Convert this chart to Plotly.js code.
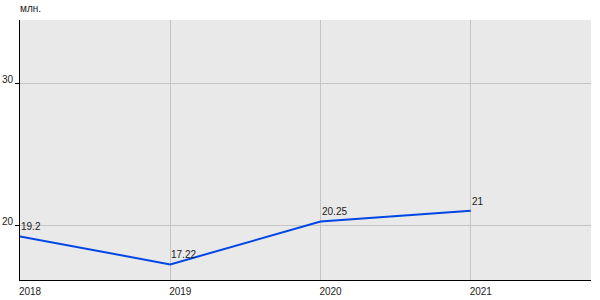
<!DOCTYPE html>
<html>
<head>
<meta charset="utf-8">
<script src="https://cdn.plot.ly/plotly-3.0.1.min.js"></script>
<style>html,body{margin:0;padding:0;background:#fff;}#chart{width:600px;height:300px;}</style>
</head>
<body>
<div id="chart"></div>
<script>
const years = [2018, 2019, 2020, 2021];
const values = [19.2, 17.22, 20.25, 21];
const valueLabels = ["19.2", "17.22", "20.25", "21"];
const yTickVals = [20, 30];
const yTickText = ["20", "30"];
const unitLabel = "млн.";

const trace = {
  x: years,
  y: values,
  type: "scatter",
  mode: "lines",
  line: {color: "#0046e6", width: 2},
  hoverinfo: "skip"
};

const annotations = years.map((yr, i) => ({
  x: yr, y: values[i], xref: "x", yref: "y",
  text: valueLabels[i], showarrow: false,
  xanchor: "left", yanchor: "bottom", xshift: -1, yshift: 2,
  font: {family: "Liberation Sans, Arial, sans-serif", size: 10, color: "#222"}
}));

const layout = {
  width: 600, height: 300,
  margin: {l: 20, r: 9, t: 20, b: 20, pad: 0},
  paper_bgcolor: "#ffffff",
  plot_bgcolor: "#e9e9e9",
  showlegend: false,
  font: {family: "Liberation Sans, Arial, sans-serif", size: 10, color: "#222"},
  title: {text: unitLabel, x: 20/600, xanchor: "left", y: 0.985, yanchor: "top",
          font: {family: "Liberation Sans, Arial, sans-serif", size: 10, color: "#222"}},
  xaxis: {
    range: [2018, 2021.8],
    tickvals: years,
    ticktext: years.map(String),
    showgrid: true, gridcolor: "#c4c4c4", gridwidth: 1,
    zeroline: false,
    showline: true, linecolor: "#000", linewidth: 1,
    ticks: "", ticklabelshift: 10, ticklabelstandoff: 2,
    tickfont: {size: 10, color: "#222"}
  },
  yaxis: {
    range: [16.12, 34.47],
    tickvals: yTickVals,
    ticktext: yTickText,
    showgrid: true, gridcolor: "#c4c4c4", gridwidth: 1,
    zeroline: false,
    showline: true, linecolor: "#000", linewidth: 1,
    ticks: "outside", ticklen: 4, tickcolor: "#000",
    ticklabelshift: -4, ticklabelstandoff: 0,
    tickfont: {size: 10, color: "#222"}
  },
  annotations: annotations
};

Plotly.newPlot("chart", [trace], layout, {displayModeBar: false, staticPlot: true});
</script>
</body>
</html>
